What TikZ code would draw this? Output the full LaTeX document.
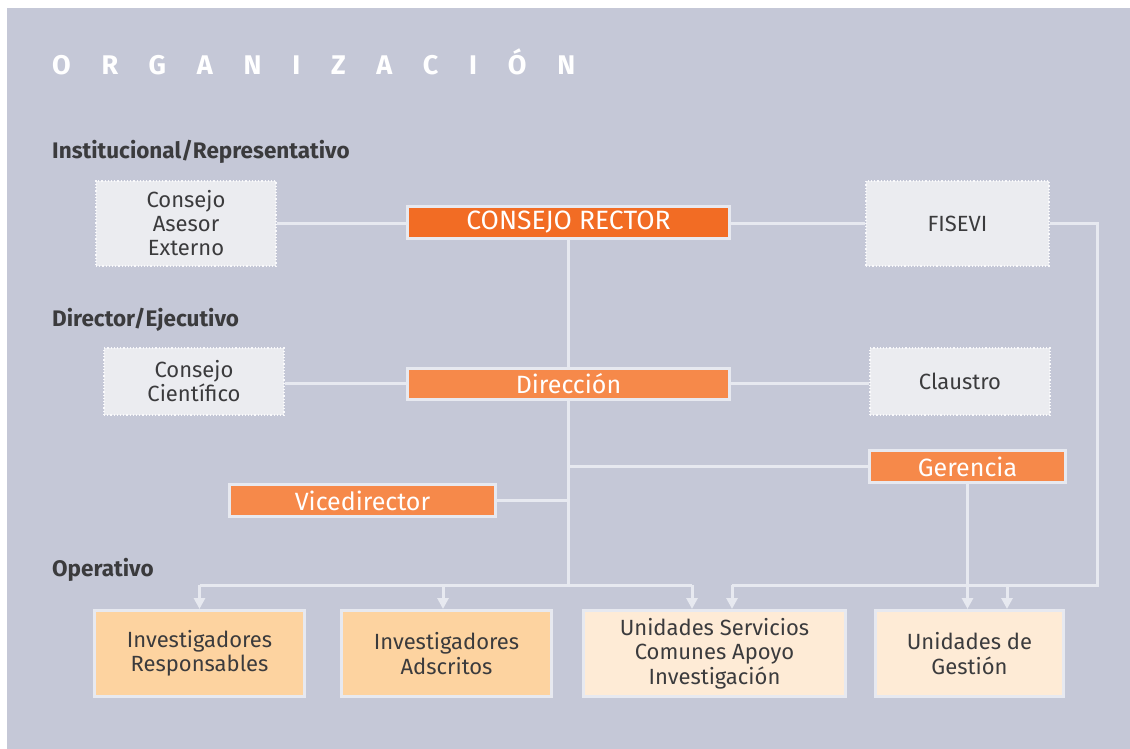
\documentclass[tikz,border=0pt]{standalone}
\usepackage{fontspec}
\setmainfont{Fira Sans}
\usetikzlibrary{arrows.meta,calc}
\definecolor{bg}{HTML}{C5C8D7}
\definecolor{linec}{HTML}{E7E9F0}
\definecolor{grayfill}{HTML}{EBECF0}
\definecolor{dotc}{HTML}{FAFAFC}
\definecolor{rectorc}{HTML}{F26C24}
\definecolor{orangec}{HTML}{F6894A}
\definecolor{peach}{HTML}{FDD3A0}
\definecolor{cream}{HTML}{FEEBD6}
\definecolor{txt}{HTML}{3B3B3D}
\tikzset{
  graybox/.style={draw=dotc, dotted, line width=1.2pt, fill=grayfill, text=txt,
    inner sep=0pt, align=center, font=\fontsize{22}{24}\selectfont},
  orangebox/.style={draw=linec, line width=3pt, fill=orangec, text=white,
    inner sep=0pt, align=center, font=\fontsize{25}{27}\selectfont},
  lowbox/.style={draw=linec, line width=3pt, text=txt,
    inner sep=0pt, align=center, font=\fontsize{22}{24.5}\selectfont},
  conn/.style={draw=linec, line width=3pt},
  arr/.style={conn, -{Triangle[width=11pt,length=11pt]}},
  heading/.style={anchor=base west, inner sep=0pt, text=txt,
    font=\bfseries\fontsize{22.5}{24}\selectfont},
}
\begin{document}
\begin{tikzpicture}[x=1pt,y=-1pt]
\useasboundingbox (0,0) rectangle (1130,749);
\fill[white] (0,0) rectangle (1130,749);
\fill[bg] (7,8) rectangle (1130,749);

% title
\node[anchor=base west, inner sep=0pt, text=white,
  font=\bfseries\fontsize{27}{29}\selectfont\addfontfeature{LetterSpace=114}]
  (title) at (52,74.5) {ORGANIZACIÓN};

% headings
\node[heading] (h1) at (52,158) {Institucional/Representativo};
\node[heading] (h2) at (52,326) {Director/Ejecutivo};
\node[heading] (h3) at (52,576) {Operativo};

% nodes
\node[graybox, minimum width=180, minimum height=85] (cae) at (186,223.5) {Consejo\\Asesor\\Externo};
\node[orangebox, fill=rectorc, minimum width=322, minimum height=32, font=\fontsize{26.5}{28}\selectfont] (rector) at (568.5,222.5) {CONSEJO RECTOR};
\node[graybox, minimum width=183, minimum height=85] (fisevi) at (957.5,223.5) {FISEVI};

\node[graybox, minimum width=180, minimum height=67] (cc) at (194,381.5) {Consejo\\Científico};
\node[orangebox, minimum width=322, minimum height=31] (dir) at (568.5,383.5) {Dirección};
\node[graybox, minimum width=180, minimum height=67] (claustro) at (960,381.5) {Claustro};

\node[orangebox, minimum width=196, minimum height=32] (ger) at (967.5,466.5) {Gerencia};
\node[orangebox, minimum width=266, minimum height=32] (vice) at (362.5,500.5) {Vicedirector};

\node[lowbox, fill=peach, minimum width=210, minimum height=86] (ir) at (199.5,653.5) {Investigadores\\Responsables};
\node[lowbox, fill=peach, minimum width=210, minimum height=86] (ia) at (446.5,653.5) {Investigadores\\Adscritos};
\node[lowbox, fill=cream, minimum width=262, minimum height=86] (usc) at (714.5,653.5) {Unidades Servicios\\Comunes Apoyo\\Investigación};
\node[lowbox, fill=cream, minimum width=188, minimum height=86] (ug) at (969.5,653.5) {Unidades de\\Gestión};

% junction coordinates
\coordinate (jM) at (568,585);
\coordinate (jF) at (1097,585);

% connectors
\draw[conn] (cae.east) -- (cae.east -| rector.west);
\draw[conn] (rector.east |- fisevi.west) -- (fisevi.west);
\draw[conn] (rector.south) -- (dir.north);
\draw[conn] (cc.east |- dir.west) -- (dir.west);
\draw[conn] (dir.east) -- (dir.east -| claustro.west);
\draw[conn] (dir.south) -- (dir.south |- jM);
\draw[conn] (dir.south |- ger.west) -- (ger.west);
\draw[conn] (vice.east) -- (vice.east -| dir.south);
\draw[conn] (ir.north |- jM) -- ([xshift=-22.5]usc.north |- jM);
\draw[arr] (ir.north |- jM) -- (ir.north);
\draw[arr] ([xshift=-3.5]ia.north |- jM) -- ([xshift=-3.5]ia.north);
\draw[arr] ([xshift=-22.5]usc.north |- jM) -- ([xshift=-22.5]usc.north);

\draw[conn] (fisevi.east) -| (jF) -- ([xshift=17.5]usc.north |- jF);
\draw[arr] ([xshift=17.5]usc.north |- jF) -- ([xshift=17.5]usc.north);
\draw[arr] ([xshift=37.5]ug.north |- jF) -- ([xshift=37.5]ug.north);
\draw[arr] (ger.south) -- (ger.south |- ug.north);
\end{tikzpicture}
\end{document}
